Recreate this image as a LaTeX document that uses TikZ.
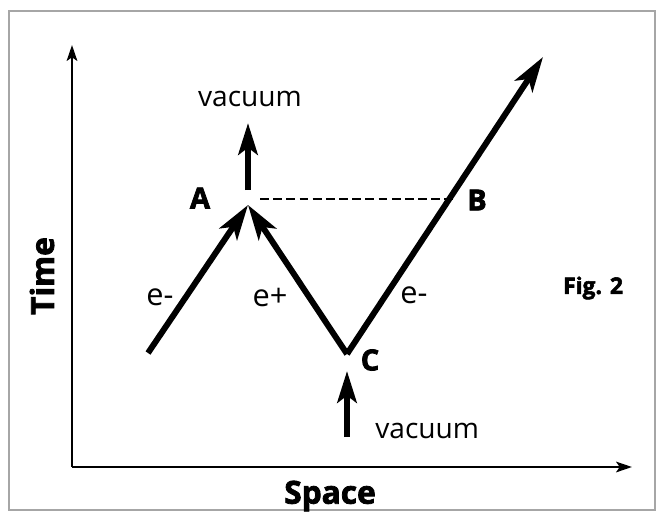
\documentclass[tikz,border=0pt]{standalone}
\usepackage{fontspec}
\setmainfont{Open Sans}
\newfontfamily\heavyfont[BoldFeatures={FakeBold=2.5}]{Open Sans}
\usetikzlibrary{arrows.meta}
\begin{document}
\begin{tikzpicture}[x=0.02cm,y=-0.02cm,
  world/.style={line width=3.4pt, -{Stealth[length=20pt,width=12pt,inset=5pt]}},
  vac/.style={line width=3.4pt, -{Stealth[length=18pt,width=11pt,inset=4pt]}},
  axis/.style={line width=1.5pt, -{Stealth[length=9pt,width=6pt,inset=2pt]}},
  lbl/.style={font=\fontsize{16}{18}\selectfont, inner sep=0pt},
  elbl/.style={font=\fontsize{17.5}{19}\selectfont, inner sep=0pt},
  heavy/.style={font=\heavyfont\bfseries\fontsize{16.5}{18}\selectfont, inner sep=0pt},
  axlbl/.style={font=\heavyfont\bfseries\fontsize{18}{20}\selectfont, inner sep=0pt}]
\useasboundingbox (0,0) rectangle (658,513);
\draw[gray!70, line width=0.8pt] (9,11) rectangle (655,510);
% axes
\coordinate (O) at (72,467);
\coordinate (ytip) at (72,45);
\coordinate (xtip) at (632,467);
\draw[axis] (O) -- (ytip);
\draw[axis] (O) -- (xtip);
\node[axlbl, rotate=90] (time) at (42,276) {Time};
\node[axlbl] (space) at (330,496) {Space};
% world lines
\coordinate (start) at (148,353);
\coordinate (A) at (248,205);
\coordinate (C) at (347,354);
\coordinate (end) at (543,57);
\coordinate (Bp) at (453,199);
\coordinate (Dst) at (260,199);
\draw[world] (start) -- (A);
\draw[world] (C) -- (A);
\draw[line width=3.4pt, line join=miter, -{Stealth[length=20pt,width=12pt,inset=5pt]}] (C) -- (end);
\draw[dashed, line width=1.2pt, dash pattern=on 5pt off 2.5pt] (Dst) -- (Bp);
% vacuum arrows
\coordinate (vA0) at (248,190);
\coordinate (vA1) at (248,123);
\coordinate (vC0) at (347,437);
\coordinate (vC1) at (347,371);
\draw[vac] (vA0) -- (vA1);
\draw[vac] (vC0) -- (vC1);
% labels
\node[lbl] (vacA) at (250,99) {vacuum};
\node[lbl, anchor=west] (vacC) at (375,431) {vacuum};
\node[heavy] (Alab) at (200,198) {A};
\node[heavy] (Blab) at (477,200) {B};
\node[heavy] (Clab) at (370,360) {C};
\node[elbl] (em1) at (160,297) {e-};
\node[elbl] (ep) at (270,297) {e+};
\node[elbl] (em2) at (414,295) {e-};
\node[font=\heavyfont\bfseries\fontsize{13}{15}\selectfont, inner sep=0pt] (fig) at (593,288) {Fig. 2};
\end{tikzpicture}
\end{document}
